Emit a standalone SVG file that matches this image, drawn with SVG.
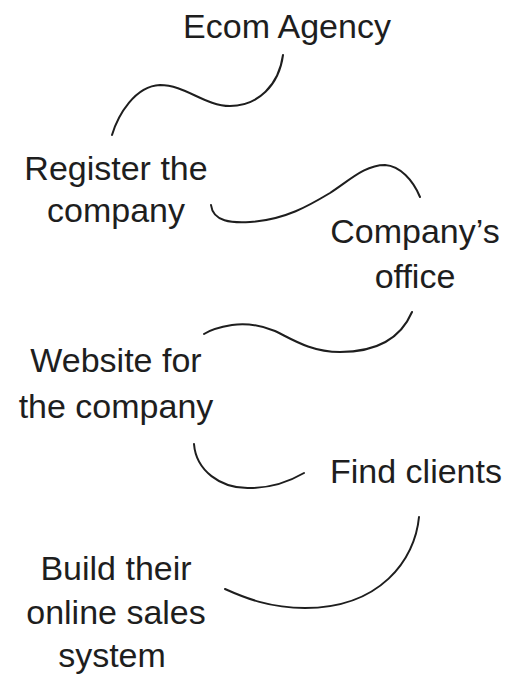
<svg xmlns="http://www.w3.org/2000/svg" width="523" height="681" viewBox="0 0 523 681">
  <style>
    .lbl { font-family: "Liberation Sans", Arial, sans-serif; font-size: 34px; fill: #1e1e1e; text-anchor: middle; }
    .conn { fill: none; stroke: #1e1e1e; stroke-width: 2; stroke-linecap: round; }
  </style>
  <rect width="523" height="681" fill="#ffffff"/>
  <g id="connectors">
    <path class="conn" d="M283,55 C279,85 258,106 230,106 C205,106 185,85 160,85 C135,86 118,115 112,135"/>
    <path class="conn" d="M211,205 C213,222 232,223 250,222 C285,220 310,205 330,193 C350,180 365,165 385,165 C400,166 413,180 420,197"/>
    <path class="conn" d="M412,312 C400,340 375,352 340,352 C310,352 290,338 275,331 C260,325 245,323 232,325 C220,327 210,330 204,334"/>
    <path class="conn" d="M194,444 C196,470 220,489 250,488 C275,488 292,480 304,473"/>
    <path class="conn" d="M419,517 C415,560 380,608 305,608 C270,608 245,598 225,589"/>
  </g>
  <g id="ecom-agency">
    <text class="lbl" x="287" y="38">Ecom Agency</text>
  </g>
  <g id="register-company">
    <text class="lbl" x="116" y="180">Register the</text>
    <text class="lbl" x="116" y="222">company</text>
  </g>
  <g id="company-office">
    <text class="lbl" x="415" y="243">Company’s</text>
    <text class="lbl" x="415" y="288">office</text>
  </g>
  <g id="website">
    <text class="lbl" x="116" y="372">Website for</text>
    <text class="lbl" x="116" y="418">the company</text>
  </g>
  <g id="find-clients">
    <text class="lbl" x="416" y="483">Find clients</text>
  </g>
  <g id="build-system">
    <text class="lbl" x="116" y="580">Build their</text>
    <text class="lbl" x="116" y="624">online sales</text>
    <text class="lbl" x="112" y="667">system</text>
  </g>
</svg>
